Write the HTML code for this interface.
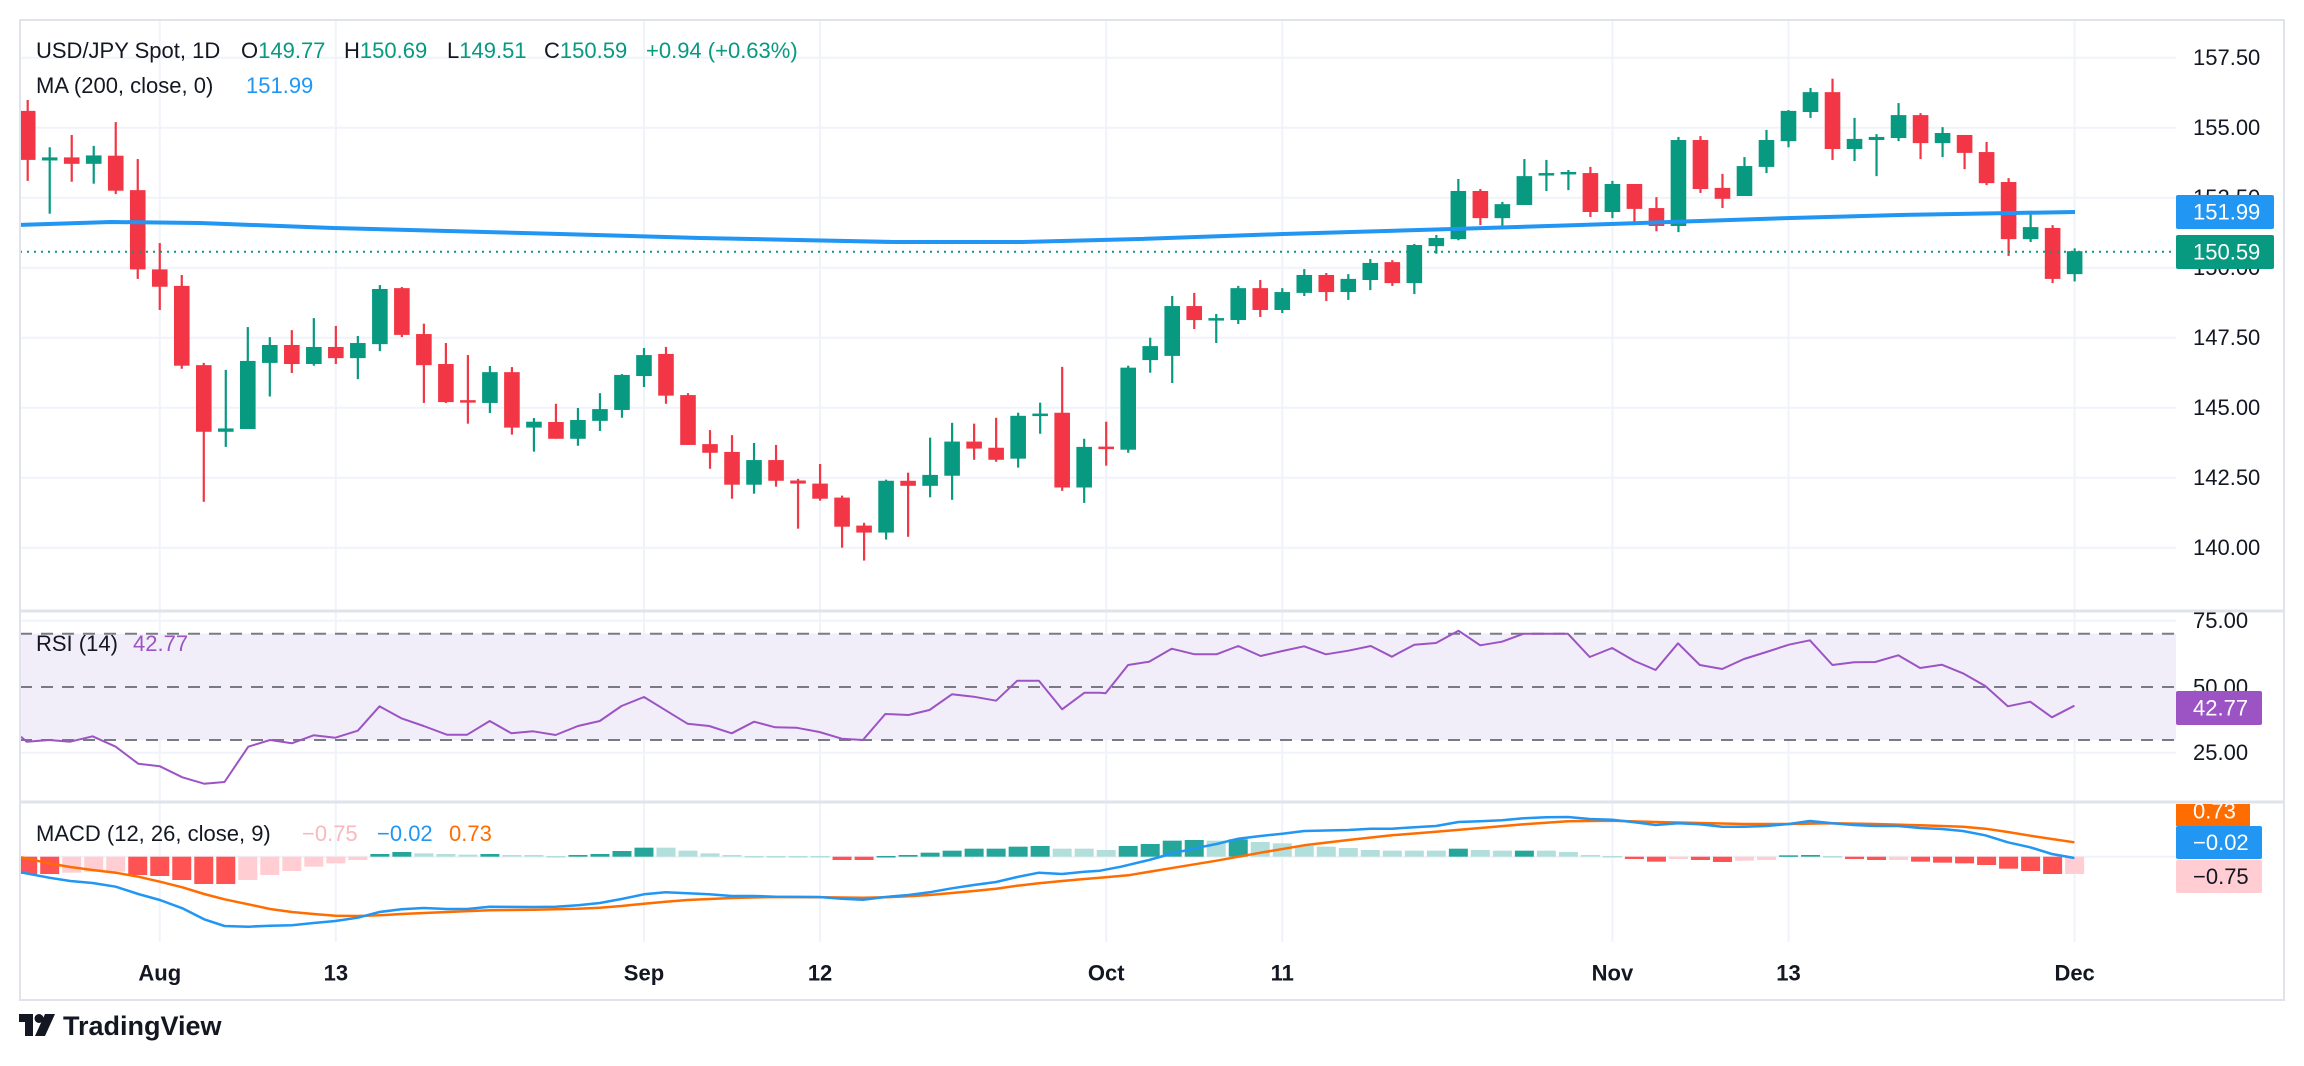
<!DOCTYPE html>
<html><head><meta charset="utf-8"><style>
html,body{margin:0;padding:0;background:#fff;}
svg{display:block;font-family:"Liberation Sans",sans-serif;}
</style></head><body>
<svg id="c" width="2304" height="1066" viewBox="0 0 2304 1066" xmlns="http://www.w3.org/2000/svg">
<rect width="2304" height="1066" fill="#fff"/>
<defs>
<clipPath id="mainClip"><rect x="21" y="21" width="2155" height="589"/></clipPath>
<clipPath id="rsiClip"><rect x="21" y="612" width="2155" height="189"/></clipPath>
<clipPath id="macdClip"><rect x="21" y="803" width="2155" height="139"/></clipPath>
<clipPath id="axClip"><rect x="2176" y="804" width="110" height="138"/></clipPath>
</defs>
<g id="grid"></g>
<g id="rsi" clip-path="url(#rsiClip)"></g>
<g id="macd" clip-path="url(#macdClip)"></g>
<g id="main" clip-path="url(#mainClip)"></g>
<g id="frame"></g>
<g id="axis"></g>
<!-- header text -->
<g font-size="22" fill="#131722">
<text x="36" y="58">USD/JPY Spot, 1D</text>
<text x="241" y="58">O<tspan fill="#089981">149.77</tspan></text>
<text x="344" y="58">H<tspan fill="#089981">150.69</tspan></text>
<text x="447" y="58">L<tspan fill="#089981">149.51</tspan></text>
<text x="544" y="58">C<tspan fill="#089981">150.59</tspan></text>
<text x="646" y="58" fill="#089981">+0.94 (+0.63%)</text>
<text x="36" y="93">MA (200, close, 0)</text>
<text x="246" y="93" fill="#2196f3">151.99</text>
<text x="36" y="651">RSI (14)</text>
<text x="133" y="651" fill="#9c54c4">42.77</text>
<text x="36" y="841">MACD (12, 26, close, 9)</text>
<text x="302" y="841" fill="#f7b9be">−0.75</text>
<text x="377" y="841" fill="#2196f3">−0.02</text>
<text x="449" y="841" fill="#ff6d00">0.73</text>
</g>
<!-- logo -->
<g transform="translate(19,1014)">
<path d="M0 0 H14 V22 H6 V8 H0 Z" fill="#131722"/>
<circle cx="20" cy="4.5" r="4.5" fill="#131722"/>
<path d="M26 0 H36 L26 22 H16 Z" fill="#131722"/>
<text x="44" y="21" font-size="27" font-weight="bold" fill="#131722">TradingView</text>
</g>
</svg>
<script>
(function(){
const NS="http://www.w3.org/2000/svg";
function el(p,t,a,txt){const e=document.createElementNS(NS,t);for(const k in a)e.setAttribute(k,a[k]);if(txt!==undefined)e.textContent=txt;document.getElementById(p).appendChild(e);return e;}
const X=k=>27.7+22.01*k;
const Y=p=>127.7+(155-p)*28;
const L=20,R=2176,RR=2284;
// grid
for(let p=140;p<=157.5;p+=2.5){el("grid","line",{x1:L,x2:R,y1:Y(p),y2:Y(p),stroke:"#f0f3fa","stroke-width":2});}
[6,14,28,36,49,57,72,80,93].forEach(k=>{el("grid","line",{x1:X(k),x2:X(k),y1:20,y2:942,stroke:"#f0f3fa","stroke-width":2});});
el("grid","line",{x1:L,x2:R,y1:620.7,y2:620.7,stroke:"#f0f3fa","stroke-width":2});
el("grid","line",{x1:L,x2:R,y1:752.7,y2:752.7,stroke:"#f0f3fa","stroke-width":2});
el("grid","line",{x1:L,x2:R,y1:856.7,y2:856.7,stroke:"#f0f3fa","stroke-width":2});
// candles
const D=[[155.6,155.99,153.1,153.85],[153.83,154.3,151.93,153.94],[153.94,154.74,153.07,153.71],[153.71,154.35,153.0,154.01],[154.0,155.2,152.63,152.75],[152.77,153.88,149.6,149.94],[149.94,150.88,148.49,149.32],[149.35,149.74,146.39,146.5],[146.52,146.6,141.64,144.14],[144.14,146.35,143.6,144.26],
[144.24,147.88,144.24,146.67],[146.6,147.52,145.4,147.24],[147.24,147.77,146.24,146.56],[146.56,148.2,146.5,147.17],[147.17,147.92,146.56,146.77],[146.77,147.56,146.02,147.31],[147.27,149.38,147.02,149.24],[149.27,149.31,147.52,147.6],[147.63,148.0,145.17,146.52],[146.56,147.31,145.17,145.2],
[145.27,146.88,144.43,145.2],[145.17,146.49,144.81,146.27],[146.27,146.45,144.04,144.29],[144.29,144.63,143.43,144.5],[144.49,145.14,143.89,143.89],[143.89,144.99,143.64,144.56],[144.53,145.52,144.17,144.95],[144.92,146.2,144.64,146.17],[146.13,147.13,145.74,146.88],[146.92,147.17,145.14,145.43],
[145.45,145.52,143.67,143.67],[143.7,144.2,142.82,143.39],[143.42,144.02,141.75,142.25],[142.25,143.74,141.93,143.13],[143.13,143.67,142.18,142.39],[142.4,142.46,140.68,142.29],[142.29,142.99,141.68,141.75],[141.79,141.86,140.0,140.75],[140.79,140.89,139.54,140.54],[140.54,142.43,140.29,142.39],
[142.39,142.68,140.39,142.21],[142.21,143.93,141.8,142.6],[142.57,144.46,141.71,143.79],[143.79,144.43,143.14,143.54],[143.57,144.64,143.07,143.14],[143.18,144.82,142.86,144.71],[144.7,145.18,144.07,144.79],[144.82,146.46,142.03,142.15],[142.15,143.89,141.6,143.6],[143.61,144.5,142.93,143.57],
[143.5,146.5,143.39,146.43],[146.7,147.5,146.25,147.2],[146.85,148.99,145.88,148.63],[148.63,149.1,147.81,148.13],[148.14,148.35,147.31,148.2],[148.13,149.35,147.99,149.27],[149.27,149.56,148.24,148.49],[148.49,149.27,148.38,149.13],[149.1,149.95,148.99,149.74],[149.74,149.81,148.81,149.13],
[149.13,149.77,148.85,149.6],[149.56,150.31,149.2,150.17],[150.2,150.27,149.35,149.45],[149.45,150.85,149.06,150.81],[150.77,151.17,150.5,151.06],[151.02,153.17,150.98,152.74],[152.74,152.81,151.52,151.77],[151.77,152.35,151.42,152.27],[152.24,153.88,152.24,153.27],[153.33,153.85,152.74,153.38],
[153.36,153.49,152.77,153.42],[153.38,153.6,151.81,151.99],[151.99,153.1,151.77,152.99],[152.99,152.99,151.52,152.1],[152.13,152.52,151.3,151.49],[151.49,154.67,151.27,154.56],[154.56,154.7,152.67,152.81],[152.85,153.35,152.13,152.46],[152.56,153.95,152.56,153.63],[153.6,154.92,153.38,154.56],
[154.52,155.63,154.3,155.6],[155.56,156.42,155.35,156.27],[156.27,156.75,153.85,154.24],[154.24,155.35,153.81,154.6],[154.56,154.77,153.27,154.67],[154.63,155.88,154.52,155.45],[155.45,155.52,153.88,154.45],[154.45,155.02,153.95,154.81],[154.74,154.74,153.52,154.1],[154.13,154.49,152.95,153.02],
[153.06,153.2,150.42,151.02],[151.02,151.95,150.92,151.45],[151.42,151.52,149.45,149.6],[149.77,150.69,149.51,150.59]];
// MA line
const ma=[[18,225],[111,222],[200,223],[333,228],[560,234],[700,238],[893,242],[1022,242],[1140,239],[1283,234],[1453,229],[1580,225],[1700,221],[1791,218],[1900,215],[2013,213],[2075,212]];
D.forEach((d,k)=>{const [o,h,l,c]=d;const col=c>=o?"#089981":"#f23645";const x=X(k);
el("main","rect",{x:x-1.1,y:Y(h),width:2.2,height:Math.max(1,Y(l)-Y(h)),fill:col});
const t=Y(Math.max(o,c)),b=Y(Math.min(o,c));
el("main","rect",{x:x-7.8,y:t,width:15.6,height:Math.max(2.5,b-t),fill:col});});
el("main","polyline",{points:ma.map(p=>p.join(",")).join(" "),fill:"none",stroke:"#2196f3","stroke-width":4,"stroke-linejoin":"round"});
el("main","line",{x1:L,x2:R,y1:251.7,y2:251.7,stroke:"#089981","stroke-width":2,"stroke-dasharray":"2 5"});
// RSI
el("rsi","rect",{x:L,y:633.7,width:R-L,height:106.3,fill:"#f1eef9"});
[633.7,687,740].forEach(y=>el("rsi","line",{x1:L,x2:R,y1:y,y2:y,stroke:"#787b86","stroke-width":2,"stroke-dasharray":"12 9"}));
const r7=[[30,410],[38,425],[70,420],[100,425],[132,409],[165,440],[197,491],[228,499],[260,532],[291,551],[320,546],[354,440],[385,420],[416,430],[447,406],[478,413],[510,392],[541,319],[572,355],[604,378],[637,404],[666,404],[698,363],[729,400],[760,394],[792,405],[824,378],[855,363],[886,318],[918,291],[949,331],[980,371],[1011,378],[1043,400],[1075,365],[1105,382],[1135,383],[1168,396],[1200,416],[1230,420],[1262,342],[1295,345],[1325,330],[1357,283],[1388,290],[1420,302],[1450,242],[1481,242],[1514,328],[1546,278],[1568,278]];
const r8=[[8,280],[40,195],[70,185],[102,146],[135,163],[166,163],[197,138],[229,168],[260,153],[291,139],[322,163],[354,152],[386,138],[416,170],[448,134],[479,129],[511,92],[542,136],[573,125],[604,101],[667,101],[698,171],[730,144],[762,183],[792,210],[824,130],[855,195],[887,207],[918,177],[950,156],[982,134],[1012,121],[1044,195],[1075,187],[1105,186],[1138,166],[1169,204],[1200,194],[1230,220],[1262,258],[1294,319],[1326,305],[1357,352],[1389,317]];
const cv=(arr,off)=>arr.map(p=>[(off+p[0]/1.4255).toFixed(1),(600+p[1]/3).toFixed(1)]);
const rp=cv(r7,0).concat(cv(r8,1100));
el("rsi","polyline",{points:rp.map(p=>p.join(",")).join(" "),fill:"none",stroke:"#9c54c4","stroke-width":2,"stroke-linejoin":"round"});
// MACD hist
const H=[[822,'r'],[822,'r'],[818,'p'],[815,'p'],[815,'p'],[825,'r'],[828,'r'],[840,'r'],[852,'r'],[852,'r'],[840,'p'],[825,'p'],[813,'p'],[800,'p'],[790,'p'],[780,'p'],
[762,'d'],[756,'d'],[760,'l'],[762,'l'],[764,'l'],[762,'d'],[765,'l'],[765,'l'],[768,'l'],[765,'d'],[762,'d'],[753,'d'],[743,'d'],[743,'l'],[752,'l'],[760,'l'],[765,'l'],[768,'l'],[768,'l'],[768,'l'],[768,'l'],[780,'r'],[780,'r'],[768,'d'],[765,'d'],[758,'d'],[752,'d'],[746,'d'],[746,'d'],[740,'d'],[738,'d'],[746,'l'],[746,'l'],
[750,'l'],[738,'d'],[732,'d'],[722,'d'],[720,'d'],[722,'l'],[718,'d'],[726,'l'],[730,'l'],[738,'l'],[740,'l'],[744,'l'],[750,'l'],[752,'l'],[752,'l'],[752,'l'],[746,'d'],[750,'l'],[752,'l'],[752,'d'],[752,'l'],[756,'l'],[765,'l'],[768,'l'],
[777,'r'],[785,'r'],[777,'p'],[780,'r'],[786,'r'],[782,'p'],[780,'p'],[766,'d'],[765,'d'],[768,'l'],[777,'r'],[780,'r'],[780,'p'],[785,'r'],[788,'r'],[790,'r'],[795,'r'],[806,'r'],[813,'r'],[822,'r'],[822,'p']];
const HC={r:"#ff5252",p:"#ffcdd2",d:"#26a69a",l:"#b2dfdb"};
const z=856.7;
H.forEach((h,k)=>{const y=600+h[0]/3;const x=X(k);el("macd","rect",{x:x-9.5,y:Math.min(y,z),width:19,height:Math.max(1.5,Math.abs(y-z)),fill:HC[h[1]]});});
const b7=[[30,817],[70,833],[100,843],[132,849],[165,860],[197,882],[228,900],[260,925],[291,958],[320,978],[354,980],[385,977],[416,976],[447,969],[478,963],[510,953],[541,936],[572,928],[604,924],[637,927],[666,927],[698,920],[760,921],[792,920],[824,916],[855,909],[886,897],[918,883],[949,877],[980,880],[1011,883],[1043,888],[1075,888],[1105,890],[1168,891],[1200,896],[1230,899],[1262,891],[1295,885],[1325,877],[1357,865],[1388,855],[1420,846],[1450,831],[1481,818],[1514,822],[1546,815],[1568,812]];
const b8=[[30,800],[70,780],[100,762],[135,745],[166,732],[197,716],[229,708],[260,701],[291,693],[354,690],[386,686],[416,686],[448,682],[479,678],[511,666],[542,664],[573,661],[604,655],[636,652],[667,651],[698,657],[730,659],[762,667],[792,675],[824,670],[855,673],[887,680],[918,680],[950,678],[982,672],[1012,663],[1044,670],[1075,675],[1105,678],[1138,678],[1169,684],[1200,687],[1230,693],[1262,706],[1294,727],[1326,742],[1357,762],[1389,774]];
const o7=[[30,772],[70,790],[100,801],[132,810],[165,818],[197,830],[228,845],[260,862],[291,882],[320,898],[354,913],[385,927],[416,936],[447,942],[478,947],[510,948],[541,946],[572,942],[637,936],[698,931],[760,929],[824,926],[855,923],[886,918],[918,911],[949,905],[980,900],[1043,894],[1105,891],[1168,892],[1230,893],[1262,892],[1295,889],[1325,885],[1357,879],[1388,873],[1420,866],[1450,857],[1481,850],[1514,843],[1546,837],[1568,833]];
const o8=[[40,826],[100,805],[166,782],[229,758],[291,736],[354,720],[416,706],[479,695],[542,684],[604,673],[667,664],[730,662],[792,666],[855,669],[918,672],[982,672],[1044,670],[1105,672],[1169,676],[1230,680],[1262,686],[1294,696],[1326,707],[1357,717],[1389,727]];
el("macd","polyline",{points:cv(o7,0).concat(cv(o8,1100)).map(p=>p.join(",")).join(" "),fill:"none",stroke:"#ff6d00","stroke-width":2.5,"stroke-linejoin":"round"});
el("macd","polyline",{points:cv(b7,0).concat(cv(b8,1100)).map(p=>p.join(",")).join(" "),fill:"none",stroke:"#2196f3","stroke-width":2.5,"stroke-linejoin":"round"});
// frame & separators
el("frame","rect",{x:20,y:20,width:RR-20,height:980,fill:"none",stroke:"#e0e3eb","stroke-width":2});
el("frame","line",{x1:20,x2:RR,y1:611,y2:611,stroke:"#e0e3eb","stroke-width":3});
el("frame","line",{x1:20,x2:RR,y1:802,y2:802,stroke:"#e0e3eb","stroke-width":3});
// axis labels
const T=(x,y,s,f,a)=>el("axis","text",{x:x,y:y,"font-size":22,fill:f||"#131722","dominant-baseline":"central","text-anchor":a||"start"},s);
[157.5,155,152.5,150,147.5,145,142.5,140].forEach(p=>T(2193,Y(p),p.toFixed(2)));
T(2193,620.7,"75.00");T(2193,687,"50.00");T(2193,752.7,"25.00");
[[6,"Aug"],[14,"13"],[28,"Sep"],[36,"12"],[49,"Oct"],[57,"11"],[72,"Nov"],[80,"13"],[93,"Dec"]].forEach(t=>{const e=T(X(t[0]),973,t[1],"#131722","middle");e.setAttribute("font-weight","bold");});
const B=(y1,y2,w,bg,s,fg)=>{el("axis","rect",{x:2176,y:y1,width:w,height:y2-y1,rx:2,fill:bg});T(2193,(y1+y2)/2,s,fg);};
B(195,229,98,"#2196f3","151.99","#fff");
B(235,269,98,"#089981","150.59","#fff");
B(691,725,86,"#9c54c4","42.77","#fff");
const g=el("axis","g",{"clip-path":"url(#axClip)"});
const r1=document.createElementNS(NS,"rect");r1.setAttribute("x",2176);r1.setAttribute("y",797);r1.setAttribute("width",74);r1.setAttribute("height",29);r1.setAttribute("fill","#ff6d00");g.appendChild(r1);
const t1=document.createElementNS(NS,"text");t1.setAttribute("x",2193);t1.setAttribute("y",811);t1.setAttribute("font-size",22);t1.setAttribute("fill","#fff");t1.setAttribute("dominant-baseline","central");t1.textContent="0.73";g.appendChild(t1);
B(826,859,86,"#2196f3","−0.02","#fff");
B(860,893,86,"#ffcdd2","−0.75","#131722");
})();
</script>
</body></html>
